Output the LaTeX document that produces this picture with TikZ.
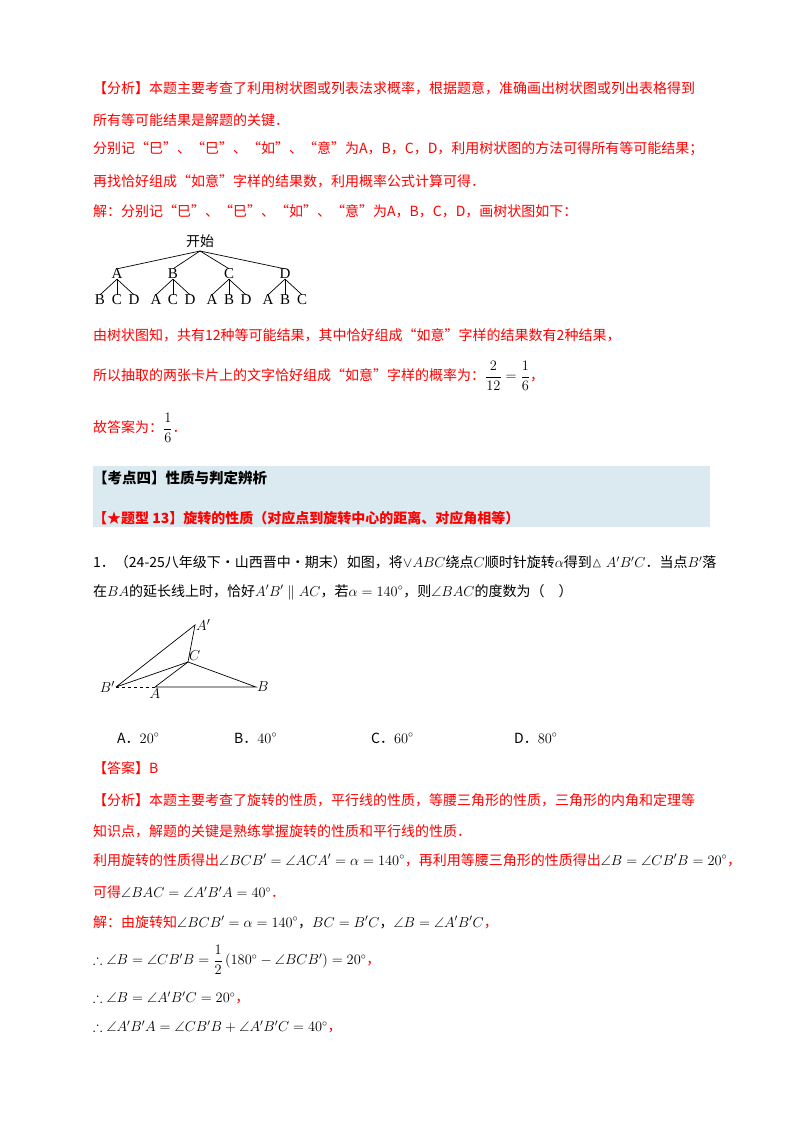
\documentclass[tikz,border=0pt]{standalone}
\usepackage{amsmath,amssymb}
\usepackage{fontspec}
\newfontfamily\cjk{Noto Sans CJK SC}
\setmainfont{Liberation Serif}
\begin{document}
\begin{tikzpicture}[x=1pt,y=-1pt,
  txt/.style={anchor=west,inner sep=0pt,font=\cjk\fontsize{14}{16}\selectfont,text=red},
  blk/.style={txt,text=black},
  lbl/.style={inner sep=0pt,font=\fontsize{15}{16}\selectfont},
  tl/.style={inner sep=1pt,font=\fontsize{15}{16}\selectfont\itshape},
  edge/.style={line width=0.7pt}]
\useasboundingbox[fill=white] (0,0) rectangle (800,1132);
\newcommand{\mb}[1]{\textcolor{black}{#1}}
\node[txt] (l1) at (93,88) {【分析】本题主要考查了利用树状图或列表法求概率，根据题意，准确画出树状图或列出表格得到};
\node[txt] (l2) at (93,120) {所有等可能结果是解题的关键．};
\node[txt] (l3) at (93,149) {分别记“巳”、“巳”、“如”、“意”为A，B，C，D，利用树状图的方法可得所有等可能结果；};
\node[txt] (l4) at (93,181) {再找恰好组成“如意”字样的结果数，利用概率公式计算可得．};
\node[txt] (l5) at (93,211) {解：分别记“巳”、“巳”、“如”、“意”为A，B，C，D，画树状图如下：};
% tree
\node[lbl,font=\cjk\fontsize{14}{16}\selectfont] (st) at (200,241) {开始};
\foreach \n/\x in {A/117,B/173,C/229,D/285}{\node[lbl] (t\n) at (\x,274) {\n};
  \draw[edge] (200,251) -- (t\n.north);}
\foreach \p/\x/\a/\b/\c in {A/117/B/C/D,B/173/A/C/D,C/229/A/B/D,D/285/A/B/C}{
  \node[lbl] (c\p1) at (\x-17,300) {\a};
  \node[lbl] (c\p2) at (\x,300) {\b};
  \node[lbl] (c\p3) at (\x+17,300) {\c};
  \draw[edge] (t\p.south) -- (c\p1.north); \draw[edge] (t\p.south) -- (c\p2.north); \draw[edge] (t\p.south) -- (c\p3.north);}
\node[txt] (l6) at (93,335) {由树状图知，共有12种等可能结果，其中恰好组成“如意”字样的结果数有2种结果，};
\node[txt] (l7) at (93,376) {所以抽取的两张卡片上的文字恰好组成“如意”字样的概率为：\mb{$\dfrac{2}{12}=\dfrac{1}{6}$}，};
\node[txt] (l8) at (93,428) {故答案为：\mb{$\dfrac{1}{6}$}．};
% header
\fill[fill={rgb,255:red,218;green,234;blue,240}] (93,466) rectangle (710,527);
\node[blk,font=\cjk\bfseries\fontsize{14.5}{16}\selectfont] (h1) at (93,478) {【考点四】性质与判定辨析};
\node[txt,font=\cjk\bfseries\fontsize{14}{16}\selectfont] (h2) at (93,518) {【★题型 13】旋转的性质（对应点到旋转中心的距离、对应角相等）};
\node[blk] (q1) at (93,562) {1．（24-25八年级下·山西晋中·期末）如图，将$\vee ABC$绕点$C$顺时针旋转$\alpha$得到$\vartriangle A'B'C$．当点$B'$落};
\node[blk] (q2) at (93,592) {在$BA$的延长线上时，恰好$A'B'\parallel AC$，若$\alpha=140^\circ$，则$\angle BAC$的度数为（\quad）};
% triangle
\coordinate (Bp) at (116,687); \coordinate (A) at (155,687); \coordinate (B) at (256,687);
\coordinate (C) at (188,662); \coordinate (Ap) at (195,625);
\draw[edge] (Bp) -- (Ap) -- (C) -- (Bp);
\draw[edge] (A) -- (C) -- (B) -- (A);
\draw[edge,dashed] (Bp) -- (A);
\node[tl,anchor=west] (lAp) at (Ap) {$A'$};
\node[tl,anchor=south west] (lC) at (C) {$C$};
\node[tl,anchor=east] (lBp) at (Bp) {$B'$};
\node[tl,anchor=north] (lA) at (A) {$A$};
\node[tl,anchor=west] (lB) at (B) {$B$};
\node[blk] (oA) at (117,738) {A．$20^\circ$};
\node[blk] (oB) at (234,738) {B．$40^\circ$};
\node[blk] (oC) at (371,738) {C．$60^\circ$};
\node[blk] (oD) at (514,738) {D．$80^\circ$};
\node[txt] (a1) at (93,768) {【答案】B};
\node[txt] (a2) at (93,800) {【分析】本题主要考查了旋转的性质，平行线的性质，等腰三角形的性质，三角形的内角和定理等};
\node[txt] (a3) at (93,831) {知识点，解题的关键是熟练掌握旋转的性质和平行线的性质．};
\node[txt] (a4) at (93,860) {利用旋转的性质得出\mb{$\angle BCB'=\angle ACA'=\alpha=140^\circ$}，再利用等腰三角形的性质得出\mb{$\angle B=\angle CB'B=20^\circ$}，};
\node[txt] (a5) at (93,892) {可得\mb{$\angle BAC=\angle A'B'A=40^\circ$}．};
\node[txt] (a6) at (93,922) {解：由旋转知\mb{$\angle BCB'=\alpha=140^\circ$，$BC=B'C$，$\angle B=\angle A'B'C$}，};
\node[txt] (a7) at (93,960) {\mb{$\therefore\angle B=\angle CB'B=\dfrac{1}{2}\left(180^\circ-\angle BCB'\right)=20^\circ$}，};
\node[txt] (a8) at (93,998) {\mb{$\therefore\angle B=\angle A'B'C=20^\circ$}，};
\node[txt] (a9) at (93,1027) {\mb{$\therefore\angle A'B'A=\angle CB'B+\angle A'B'C=40^\circ$}，};
\end{tikzpicture}
\end{document}
